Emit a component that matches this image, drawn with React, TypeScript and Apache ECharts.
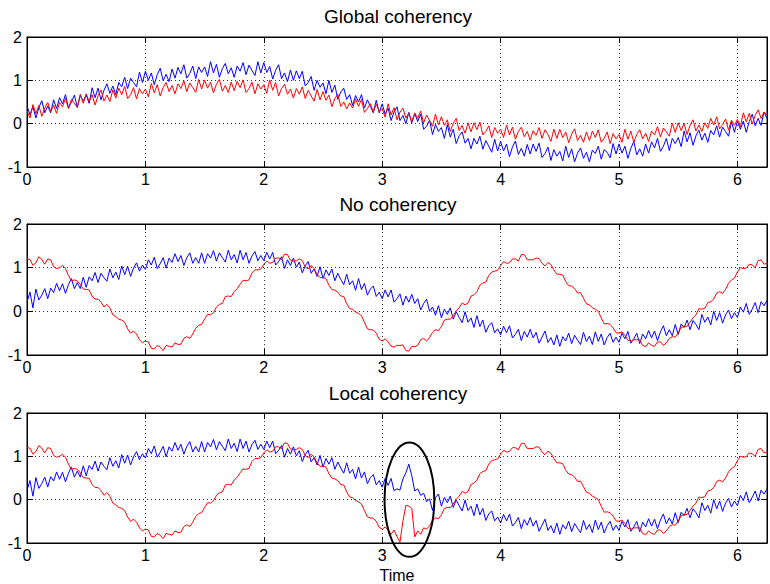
import React, { useEffect, useRef } from "react";
import * as echarts from "echarts";

const STEP = 0.025;
const X_MAX = 6.25;
const xTicks = [0, 1, 2, 3, 4, 5, 6];
const yTicks = [-1, 0, 1, 2];
const panelTitles = ["Global coherency", "No coherency", "Local coherency"];
const xAxisName = "Time";
// annotation ellipse in data units of the third panel: centre x, centre y, half width, half height
const ellipseSpec = [3.23, 0, 0.21, 1.32];

// samples every 0.025 from 0 to 6.25
const globalBlue = [
  0.41, 0.21, 0.39, 0.13, 0.37, 0.53, 0.25, 0.41, 0.25, 0.55,
  0.35, 0.6, 0.46, 0.67, 0.37, 0.49, 0.66, 0.38, 0.65, 0.52,
  0.66, 0.47, 0.83, 0.6, 0.82, 0.55, 0.77, 0.92, 0.7, 0.87,
  0.67, 0.95, 0.85, 1.07, 0.81, 1.05, 0.95, 0.85, 1.19, 0.95,
  1.21, 1.0, 1.17, 0.9, 1.13, 1.28, 0.99, 1.14, 0.97, 1.26,
  1.05, 1.3, 1.15, 1.36, 1.05, 1.16, 1.33, 1.04, 1.31, 1.18,
  1.31, 1.09, 1.43, 1.17, 1.37, 1.07, 1.27, 1.39, 1.15, 1.29,
  1.07, 1.33, 1.21, 1.41, 1.13, 1.35, 1.23, 1.11, 1.43, 1.17,
  1.41, 1.18, 1.32, 1.03, 1.23, 1.36, 1.04, 1.17, 0.97, 1.24,
  1.0, 1.22, 1.04, 1.21, 0.87, 0.95, 1.09, 0.77, 1.0, 0.84,
  0.94, 0.69, 1.0, 0.72, 0.89, 0.56, 0.73, 0.82, 0.56, 0.67,
  0.42, 0.65, 0.5, 0.67, 0.36, 0.55, 0.4, 0.25, 0.54, 0.25,
  0.46, 0.22, 0.36, 0.07, 0.27, 0.39, 0.07, 0.19, 0.0, 0.26,
  0.02, 0.23, 0.05, 0.22, -0.13, -0.06, 0.08, -0.25, -0.02, -0.18,
  -0.09, -0.34, -0.02, -0.31, -0.13, -0.46, -0.28, -0.19, -0.45, -0.34,
  -0.58, -0.34, -0.47, -0.29, -0.59, -0.39, -0.52, -0.66, -0.36, -0.63,
  -0.41, -0.63, -0.47, -0.76, -0.54, -0.4, -0.71, -0.57, -0.75, -0.48,
  -0.7, -0.47, -0.64, -0.45, -0.78, -0.69, -0.54, -0.85, -0.6, -0.75,
  -0.64, -0.86, -0.52, -0.78, -0.58, -0.88, -0.68, -0.56, -0.8, -0.66,
  -0.88, -0.61, -0.69, -0.52, -0.82, -0.6, -0.66, -0.79, -0.46, -0.7,
  -0.47, -0.68, -0.52, -0.8, -0.57, -0.41, -0.72, -0.58, -0.75, -0.47,
  -0.68, -0.42, -0.56, -0.34, -0.64, -0.52, -0.34, -0.62, -0.34, -0.46,
  -0.32, -0.53, -0.17, -0.42, -0.21, -0.5, -0.28, -0.15, -0.38, -0.22,
  -0.43, -0.16, -0.26, -0.05, -0.31, -0.08, -0.18, -0.29, 0.05, -0.2,
  0.06, -0.13, 0.06, -0.2, 0.05, 0.22, -0.05, 0.12, -0.04, 0.27, 0.12,
];

const globalRed = [
  0.3, 0.13, 0.44, 0.23, 0.42, 0.17, 0.36, 0.49, 0.28, 0.43,
  0.24, 0.49, 0.39, 0.58, 0.35, 0.56, 0.47, 0.37, 0.68, 0.47,
  0.69, 0.51, 0.67, 0.43, 0.64, 0.78, 0.52, 0.66, 0.51, 0.78,
  0.59, 0.82, 0.67, 0.86, 0.58, 0.67, 0.83, 0.57, 0.81, 0.69,
  0.8, 0.62, 0.93, 0.71, 0.9, 0.64, 0.83, 0.95, 0.74, 0.88,
  0.69, 0.92, 0.81, 0.99, 0.74, 0.94, 0.83, 0.72, 1.02, 0.8,
  1.01, 0.82, 0.96, 0.71, 0.91, 1.02, 0.75, 0.88, 0.72, 0.96,
  0.76, 0.98, 0.83, 1.01, 0.72, 0.81, 0.96, 0.69, 0.92, 0.8,
  0.9, 0.7, 1.01, 0.77, 0.95, 0.64, 0.81, 0.91, 0.68, 0.8,
  0.59, 0.81, 0.68, 0.85, 0.58, 0.77, 0.64, 0.52, 0.79, 0.55,
  0.74, 0.54, 0.66, 0.39, 0.58, 0.68, 0.4, 0.5, 0.34, 0.48,
  0.36, 0.57, 0.4, 0.56, 0.26, 0.35, 0.46, 0.27, 0.45, 0.28,
  0.35, 0.15, 0.46, 0.2, 0.37, 0.09, 0.26, 0.36, 0.13, 0.25,
  0.04, 0.25, 0.12, 0.29, 0.02, 0.2, 0.07, -0.06, 0.22, -0.03,
  0.16, -0.04, 0.09, -0.18, 0.01, 0.12, -0.16, -0.04, -0.22, 0.02,
  -0.19, 0.02, -0.14, 0.04, -0.26, -0.18, -0.05, -0.32, -0.09, -0.22,
  -0.13, -0.32, -0.03, -0.26, -0.08, -0.36, -0.18, -0.08, -0.3, -0.18,
  -0.38, -0.16, -0.27, -0.09, -0.34, -0.14, -0.25, -0.41, -0.13, -0.34,
  -0.13, -0.32, -0.19, -0.44, -0.24, -0.12, -0.39, -0.27, -0.43, -0.19,
  -0.39, -0.17, -0.32, -0.14, -0.43, -0.34, -0.19, -0.46, -0.23, -0.35,
  -0.25, -0.43, -0.13, -0.36, -0.17, -0.43, -0.25, -0.14, -0.35, -0.22,
  -0.41, -0.17, -0.26, -0.07, -0.31, -0.1, -0.19, -0.29, 0.01, -0.2,
  0.02, -0.16, 0.01, -0.25, -0.04, 0.09, -0.17, -0.03, -0.18, 0.02,
  -0.11, 0.12, -0.03, 0.16, -0.12, -0.02, 0.11, -0.15, 0.08, -0.04,
  0.1, -0.07, 0.25, 0.04, 0.24, -0.01, 0.19, 0.32, 0.12, 0.27, 0.2,
];

const noBlue = [
  0.21, 0.44, 0.08, 0.51, 0.26, 0.37, 0.52, 0.29, 0.53, 0.43,
  0.64, 0.47, 0.63, 0.41, 0.61, 0.75, 0.52, 0.66, 0.52, 0.78,
  0.55, 0.79, 0.7, 0.89, 0.66, 0.87, 0.77, 0.69, 0.97, 0.77,
  0.9, 0.73, 1.04, 0.84, 1.03, 0.8, 0.99, 1.11, 0.92, 1.06,
  0.96, 1.18, 1.06, 1.24, 0.98, 1.09, 1.23, 0.99, 1.22, 1.12,
  1.32, 1.14, 1.28, 1.05, 1.23, 1.34, 1.1, 1.23, 1.1, 1.34,
  1.1, 1.32, 1.22, 1.39, 1.15, 1.34, 1.23, 1.13, 1.4, 1.18,
  1.3, 1.11, 1.4, 1.18, 1.35, 1.1, 1.27, 1.37, 1.16, 1.28,
  1.16, 1.35, 1.2, 1.35, 1.06, 1.14, 1.25, 0.98, 1.18, 1.05,
  1.22, 1.01, 1.13, 0.88, 1.04, 1.14, 0.87, 0.97, 0.8, 1.02,
  0.75, 0.95, 0.82, 0.97, 0.7, 0.87, 0.73, 0.61, 0.85, 0.61,
  0.7, 0.48, 0.75, 0.5, 0.64, 0.37, 0.51, 0.58, 0.34, 0.44,
  0.29, 0.49, 0.33, 0.49, 0.21, 0.29, 0.4, 0.14, 0.35, 0.21,
  0.39, 0.18, 0.29, 0.03, 0.18, 0.28, 0.0, 0.1, -0.09, 0.13,
  -0.15, 0.05, -0.07, 0.08, -0.18, -0.01, -0.14, -0.26, -0.01, -0.25,
  -0.15, -0.37, -0.1, -0.35, -0.2, -0.48, -0.33, -0.26, -0.49, -0.4,
  -0.54, -0.34, -0.49, -0.33, -0.61, -0.53, -0.41, -0.67, -0.46, -0.59,
  -0.41, -0.61, -0.48, -0.73, -0.59, -0.45, -0.71, -0.6, -0.77, -0.54,
  -0.8, -0.58, -0.68, -0.5, -0.74, -0.55, -0.66, -0.76, -0.48, -0.69,
  -0.57, -0.76, -0.47, -0.69, -0.52, -0.77, -0.6, -0.5, -0.71, -0.59,
  -0.71, -0.5, -0.63, -0.46, -0.73, -0.63, -0.5, -0.74, -0.52, -0.63,
  -0.44, -0.61, -0.45, -0.67, -0.47, -0.33, -0.56, -0.42, -0.56, -0.3,
  -0.53, -0.29, -0.37, -0.2, -0.42, -0.21, -0.3, -0.42, -0.07, -0.25,
  -0.13, -0.31, 0.0, -0.21, -0.03, -0.27, -0.08, 0.03, -0.17, -0.03,
  -0.14, 0.1, -0.02, 0.18, -0.07, 0.05, 0.2, -0.03, 0.22, 0.13, 0.25,
];

const noRed = [
  1.2, 1.19, 1.05, 1.11, 1.25, 1.19, 1.08, 1.2, 1.18, 1.02,
  0.98, 1.0, 1.05, 0.98, 0.82, 0.7, 0.72, 0.7, 0.62, 0.51,
  0.5, 0.49, 0.35, 0.28, 0.28, 0.21, 0.1, 0.16, 0.08, -0.08,
  -0.12, -0.18, -0.2, -0.25, -0.4, -0.5, -0.45, -0.52, -0.65, -0.72,
  -0.68, -0.7, -0.85, -0.86, -0.78, -0.82, -0.9, -0.78, -0.8, -0.82,
  -0.72, -0.76, -0.75, -0.62, -0.58, -0.62, -0.52, -0.39, -0.32, -0.3,
  -0.18, -0.07, -0.08, -0.03, 0.1, 0.16, 0.18, 0.34, 0.35, 0.34,
  0.45, 0.52, 0.62, 0.71, 0.7, 0.72, 0.88, 0.95, 0.95, 0.97,
  1.08, 1.15, 1.1, 1.12, 1.22, 1.22, 1.18, 1.31, 1.3, 1.17,
  1.15, 1.16, 1.2, 1.16, 1.02, 0.97, 1.05, 0.98, 0.85, 0.77,
  0.78, 0.75, 0.6, 0.5, 0.48, 0.44, 0.35, 0.34, 0.18, 0.06,
  0.05, -0.02, -0.05, -0.1, -0.25, -0.4, -0.42, -0.43, -0.5, -0.64,
  -0.68, -0.63, -0.7, -0.8, -0.82, -0.78, -0.78, -0.77, -0.9, -0.91,
  -0.8, -0.81, -0.78, -0.65, -0.62, -0.68, -0.6, -0.48, -0.42, -0.44,
  -0.35, -0.2, -0.18, -0.18, -0.1, 0.01, 0.08, 0.19, 0.15, 0.19,
  0.35, 0.38, 0.45, 0.6, 0.65, 0.67, 0.82, 0.9, 0.92, 0.94,
  1.05, 1.14, 1.1, 1.11, 1.2, 1.2, 1.15, 1.3, 1.3, 1.18,
  1.18, 1.18, 1.22, 1.21, 1.1, 1.04, 1.12, 1.07, 0.95, 0.85,
  0.85, 0.83, 0.68, 0.59, 0.58, 0.52, 0.42, 0.43, 0.3, 0.17,
  0.15, 0.08, 0.05, 0.0, -0.15, -0.29, -0.28, -0.3, -0.38, -0.49,
  -0.5, -0.47, -0.55, -0.66, -0.68, -0.65, -0.65, -0.65, -0.78, -0.81,
  -0.72, -0.78, -0.8, -0.7, -0.7, -0.78, -0.72, -0.62, -0.58, -0.59,
  -0.5, -0.37, -0.35, -0.34, -0.25, -0.15, -0.08, 0.06, 0.05, 0.07,
  0.2, 0.22, 0.28, 0.42, 0.45, 0.41, 0.5, 0.64, 0.72, 0.76,
  0.9, 1.0, 0.98, 0.99, 1.08, 1.06, 1.0, 1.16, 1.18, 1.08, 1.1,
];

// the local disturbance of the third panel (x from 3.125 to 3.45 for blue, 3.1 to 3.35 for red)
const localBlueBurst = [0.25, 0.22, 0.48, 0.62, 0.82, 0.55, 0.2, 0.25, 0.1, 0.15, -0.05, 0.02, -0.25, 0.05];
const localRedBurst = [-0.7, -0.85, -0.98, -0.5, -0.13, -0.15, -0.2, -0.86, -0.72, -0.8, -0.65];
const BLUE_BURST_START = 125;
const RED_BURST_START = 124;

const localBlue = [
  ...noBlue.slice(0, BLUE_BURST_START),
  ...localBlueBurst,
  ...noBlue.slice(BLUE_BURST_START + localBlueBurst.length),
];
const localRed = [
  ...noRed.slice(0, RED_BURST_START),
  ...localRedBurst,
  ...noRed.slice(RED_BURST_START + localRedBurst.length),
];

const panels = [
  { blue: globalBlue, red: globalRed },
  { blue: noBlue, red: noRed },
  { blue: localBlue, red: localRed },
];

const FONT = "Liberation Sans, Arial, Helvetica, sans-serif";
const BLUE = "#0000ff";
const RED = "#ff0000";

function toPairs(arr: number[]) {
  return arr.map((v, i) => [Math.round(i * STEP * 1000) / 1000, v]);
}

export default function App() {
  const ref = useRef<HTMLDivElement>(null);

  useEffect(() => {
    document.body.style.margin = "0";
    if (!ref.current) return;
    const chart = echarts.init(ref.current, null, { renderer: "svg" });

    const gridPos = [
      { top: 37, height: 130 },
      { top: 224, height: 131 },
      { top: 413, height: 130 },
    ];

    const grid = gridPos.map((g) => ({
      left: 27,
      width: 742,
      top: g.top,
      height: g.height,
      show: true,
      borderColor: "#000",
      borderWidth: 1,
      backgroundColor: "#fff",
      containLabel: false,
    }));

    const dotted = { color: "#333", width: 1, type: [1, 3] as any };
    const tickStyle = { show: true, inside: true, length: 6, lineStyle: { color: "#000", width: 1 } };

    const xAxis: any[] = [];
    const yAxis: any[] = [];
    const series: any[] = [];

    panels.forEach((p, i) => {
      xAxis.push({
        type: "value",
        gridIndex: i,
        min: xTicks[0],
        max: X_MAX,
        interval: 1,
        position: "bottom",
        axisLine: { show: true, onZero: false, lineStyle: { color: "#000", width: 1 } },
        axisTick: tickStyle,
        axisLabel: {
          show: true,
          color: "#000",
          fontSize: 16,
          fontFamily: FONT,
          margin: 4,
          formatter: (v: number) => (xTicks.includes(v) ? String(v) : ""),
        },
        splitLine: { show: true, lineStyle: dotted },
        name: i === 2 ? xAxisName : "",
        nameLocation: "middle",
        nameGap: 24,
        nameTextStyle: { color: "#000", fontSize: 16, fontFamily: FONT },
      });
      xAxis.push({
        type: "value",
        gridIndex: i,
        min: xTicks[0],
        max: X_MAX,
        interval: 1,
        position: "top",
        axisLine: { show: true, onZero: false, lineStyle: { color: "#000", width: 1 } },
        axisTick: tickStyle,
        axisLabel: { show: false },
        splitLine: { show: false },
      });
      yAxis.push({
        type: "value",
        gridIndex: i,
        min: yTicks[0],
        max: yTicks[yTicks.length - 1],
        interval: 1,
        position: "left",
        axisLine: { show: true, onZero: false, lineStyle: { color: "#000", width: 1 } },
        axisTick: tickStyle,
        axisLabel: {
          show: true,
          color: "#000",
          fontSize: 16,
          fontFamily: FONT,
          margin: 5,
        },
        splitLine: { show: true, lineStyle: dotted },
      });
      yAxis.push({
        type: "value",
        gridIndex: i,
        min: yTicks[0],
        max: yTicks[yTicks.length - 1],
        interval: 1,
        position: "right",
        axisLine: { show: true, onZero: false, lineStyle: { color: "#000", width: 1 } },
        axisTick: tickStyle,
        axisLabel: { show: false },
        splitLine: { show: false },
      });

      series.push({
        type: "line",
        xAxisIndex: i * 2,
        yAxisIndex: i * 2,
        data: toPairs(p.blue),
        showSymbol: false,
        symbol: "none",
        lineStyle: { color: BLUE, width: 1 },
        itemStyle: { color: BLUE },
        z: 2,
      });
      series.push({
        type: "line",
        xAxisIndex: i * 2,
        yAxisIndex: i * 2,
        data: toPairs(p.red),
        showSymbol: false,
        symbol: "none",
        lineStyle: { color: RED, width: 1 },
        itemStyle: { color: RED },
        z: 3,
      });
    });

    const titleY = [16, 204, 393];
    const titleGraphics = panelTitles.map((t, i) => ({
      type: "text",
      id: "title" + i,
      x: 398,
      y: titleY[i],
      style: {
        text: t,
        font: "19px " + FONT,
        fill: "#000",
        textAlign: "center",
        textVerticalAlign: "middle",
      },
    }));

    chart.setOption({
      animation: false,
      backgroundColor: "#fff",
      grid,
      xAxis,
      yAxis,
      series,
      graphic: titleGraphics,
    });

    const [ecx, ecy, erx, ery] = ellipseSpec;
    const c = chart.convertToPixel({ gridIndex: 2 } as any, [ecx, ecy]) as number[];
    const e = chart.convertToPixel({ gridIndex: 2 } as any, [ecx + erx, ecy + ery]) as number[];
    chart.setOption({
      graphic: [
        ...titleGraphics,
        {
          type: "ellipse",
          id: "ellipse",
          z: 100,
          shape: { cx: c[0], cy: c[1], rx: Math.abs(e[0] - c[0]), ry: Math.abs(c[1] - e[1]) },
          style: { fill: "none", stroke: "#000", lineWidth: 2 },
        },
      ],
    });

    return () => {
      chart.dispose();
    };
  }, []);

  return <div ref={ref} style={{ width: 770, height: 584 }} />;
}
